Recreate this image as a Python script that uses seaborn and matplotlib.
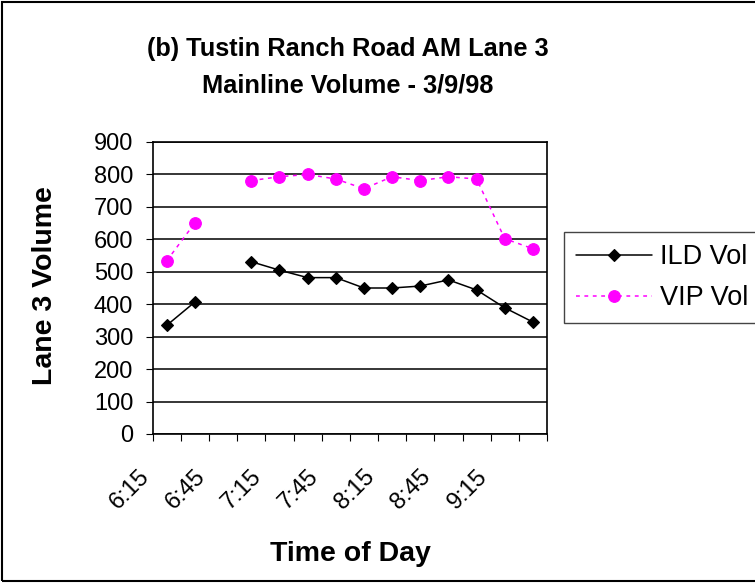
import numpy as np
import pandas as pd
import matplotlib
matplotlib.use("Agg")
import matplotlib.pyplot as plt
import seaborn as sns
from matplotlib.lines import Line2D
from matplotlib.patches import Rectangle
from matplotlib.transforms import ScaledTranslation

# ---- data ----
times = ["6:15", "6:30", "6:45", "7:00", "7:15", "7:30", "7:45",
         "8:00", "8:15", "8:30", "8:45", "9:00", "9:15", "9:30"]
ild_vol = [335, 407, np.nan, 531, 505, 482, 482, 450, 450, 456, 475, 444, 389, 345]
vip_vol = [534, 651, np.nan, 781, 793, 800, 786, 756, 793, 781, 793, 786, 602, 571]
series_names = ["ILD Vol", "VIP Vol"]
y_ticks = [0, 100, 200, 300, 400, 500, 600, 700, 800, 900]
title_lines = ["(b) Tustin Ranch Road AM Lane 3", "Mainline Volume - 3/9/98"]
x_label = "Time of Day"
y_label = "Lane 3 Volume"

sns.set_theme(style="white")
plt.rcParams["font.family"] = ["Liberation Sans", "DejaVu Sans"]

df = pd.DataFrame({"pos": np.arange(len(times)), "time": times,
                   "ILD Vol": ild_vol, "VIP Vol": vip_vol})
df["segment"] = np.cumsum(df["ILD Vol"].isna().to_numpy())
long = df.melt(id_vars=["pos", "time", "segment"], value_vars=series_names,
               var_name="series", value_name="volume").dropna()

W, H = 755, 583
fig = plt.figure(figsize=(W / 100, H / 100), dpi=100)
fig.patch.set_facecolor("white")
ax = fig.add_axes([152.7 / W, 1 - 434 / H, (547 - 152.7) / W, (434 - 142) / H])
ax.set_facecolor("white")

styles = {
    "ILD Vol": dict(color="black", marker="D", markersize=6.0, linestyle="-", linewidth=1.1),
    "VIP Vol": dict(color="#FF00FF", marker="o", markersize=8.4, linestyle=(0, (2.5, 3)), linewidth=1.1),
}
handles = []
for name in series_names:
    st = styles[name]
    sub = long[long["series"] == name]
    sns.lineplot(data=sub, x="pos", y="volume", units="segment", estimator=None,
                 ax=ax, color=st["color"], marker=st["marker"], markersize=st["markersize"],
                 markeredgecolor=st["color"], markerfacecolor=st["color"], markeredgewidth=0.8,
                 linestyle=st["linestyle"], linewidth=st["linewidth"], legend=False, zorder=3)
    handles.append(Line2D([], [], color=st["color"], marker=st["marker"],
                          markersize=st["markersize"], markeredgecolor=st["color"],
                          markerfacecolor=st["color"], markeredgewidth=0.8,
                          linestyle=st["linestyle"], linewidth=st["linewidth"]))

ax.set_xlim(-0.5, len(times) - 0.5)
ax.set_ylim(0, 900)
ax.set_yticks(y_ticks)
ax.yaxis.grid(True, color="black", linewidth=1.1)
ax.xaxis.grid(False)
ax.set_axisbelow(True)
for sp in ax.spines.values():
    sp.set_visible(True)
    sp.set_color("black")
    sp.set_linewidth(1.2)

# x ticks: labels every other category, tick marks at category boundaries
ax.set_xticks(np.arange(0, len(times), 2))
ax.set_xticklabels(times[::2])
ax.set_xticks(np.arange(-0.5, len(times), 1), minor=True)
ax.tick_params(axis="x", which="major", bottom=True, length=0, pad=28, labelsize=17,
               labelcolor="black")
ax.tick_params(axis="x", which="minor", bottom=True, length=5, width=0.8,
               direction="out", color="black")
ax.tick_params(axis="y", which="major", left=True, length=5, width=0.8, direction="out",
               color="black", pad=9, labelsize=17, labelcolor="black")
offset = ScaledTranslation(-21 / 100, 0, fig.dpi_scale_trans)
for lab in ax.get_xticklabels():
    lab.set_rotation(45)
    lab.set_ha("right")
    lab.set_va("center")
    lab.set_rotation_mode("anchor")
    lab.set_transform(lab.get_transform() + offset)

ax.set_xlabel(x_label, fontsize=20.5, fontweight="bold", color="black")
ax.set_ylabel(y_label, fontsize=20.5, fontweight="bold", color="black")
ax.xaxis.set_label_coords(350 / W, 1 - 554 / H, transform=fig.transFigure)
ax.xaxis.label.set_va("center")
ax.yaxis.set_label_coords(45 / W, 1 - 286 / H, transform=fig.transFigure)
ax.yaxis.label.set_va("center")

fig.text(348 / W, 1 - 56 / H, title_lines[0], ha="center", va="baseline",
         fontsize=18.3, fontweight="bold", color="black")
fig.text(348 / W, 1 - 92.5 / H, title_lines[1], ha="center", va="baseline",
         fontsize=18.3, fontweight="bold", color="black")

leg = fig.legend(handles, series_names, loc="upper left",
                 bbox_to_anchor=(564 / W, 1 - 232 / H), bbox_transform=fig.transFigure,
                 fontsize=19.5, frameon=True, fancybox=False, edgecolor="#444444",
                 framealpha=1, borderpad=0.45, handlelength=2.8, handletextpad=0.28,
                 labelspacing=0.55, borderaxespad=0)
leg.get_frame().set_linewidth(1.0)
for t in leg.get_texts():
    t.set_color("black")

fig.patches.append(Rectangle((2 / W, 2 / H), 1.0, 1 - 4 / H, transform=fig.transFigure,
                             fill=False, edgecolor="black", linewidth=1.5, zorder=10))

fig.savefig("out.png", dpi=100, facecolor="white")
